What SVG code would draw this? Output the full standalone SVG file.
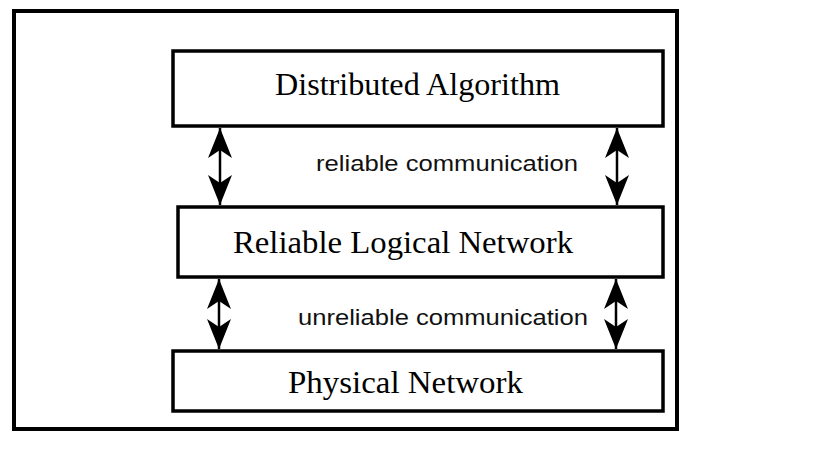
<svg xmlns="http://www.w3.org/2000/svg" width="822" height="476" viewBox="0 0 822 476">
<defs>
<style>
.box{fill:#fff;stroke:#000;stroke-width:3.5}
.frame{fill:#fff;stroke:#000;stroke-width:4}
.title{font-family:"Liberation Serif","Times New Roman",serif;font-size:32px;fill:#000;text-anchor:start}
.lbl{font-family:"Liberation Sans",Arial,sans-serif;font-size:22px;fill:#111}
.conn{stroke:#000;stroke-width:2.5;fill:none;marker-start:url(#ah);marker-end:url(#ah)}
</style>
<marker id="ah" viewBox="0 0 30 24" refX="30" refY="12" markerWidth="30" markerHeight="24" markerUnits="userSpaceOnUse" orient="auto-start-reverse">
<path d="M0,0 L30,12 L0,24 L8,12 Z" fill="#000"/>
</marker>
</defs>
<rect x="0" y="0" width="822" height="476" fill="#fff"/>
<rect class="frame" x="14" y="11" width="663" height="418"/>
<g id="distributed-algorithm">
<rect class="box" x="173" y="51" width="490" height="75"/>
<text class="title" x="275" y="95" textLength="285" lengthAdjust="spacingAndGlyphs">Distributed Algorithm</text>
</g>
<g id="reliable-logical-network">
<rect class="box" x="178" y="207" width="485" height="70"/>
<text class="title" x="233" y="253" textLength="340" lengthAdjust="spacingAndGlyphs">Reliable Logical Network</text>
</g>
<g id="physical-network">
<rect class="box" x="173" y="351" width="490" height="60"/>
<text class="title" x="288" y="393" textLength="235" lengthAdjust="spacingAndGlyphs">Physical Network</text>
</g>
<g id="connectors">
<line class="conn" x1="220" y1="128" x2="220" y2="205"/>
<line class="conn" x1="617" y1="128" x2="617" y2="205"/>
<line class="conn" x1="219" y1="279" x2="219" y2="349"/>
<line class="conn" x1="616" y1="279" x2="616" y2="349"/>
<text class="lbl" x="316" y="171" textLength="262" lengthAdjust="spacingAndGlyphs">reliable communication</text>
<text class="lbl" x="298" y="325" textLength="290" lengthAdjust="spacingAndGlyphs">unreliable communication</text>
</g>
</svg>
